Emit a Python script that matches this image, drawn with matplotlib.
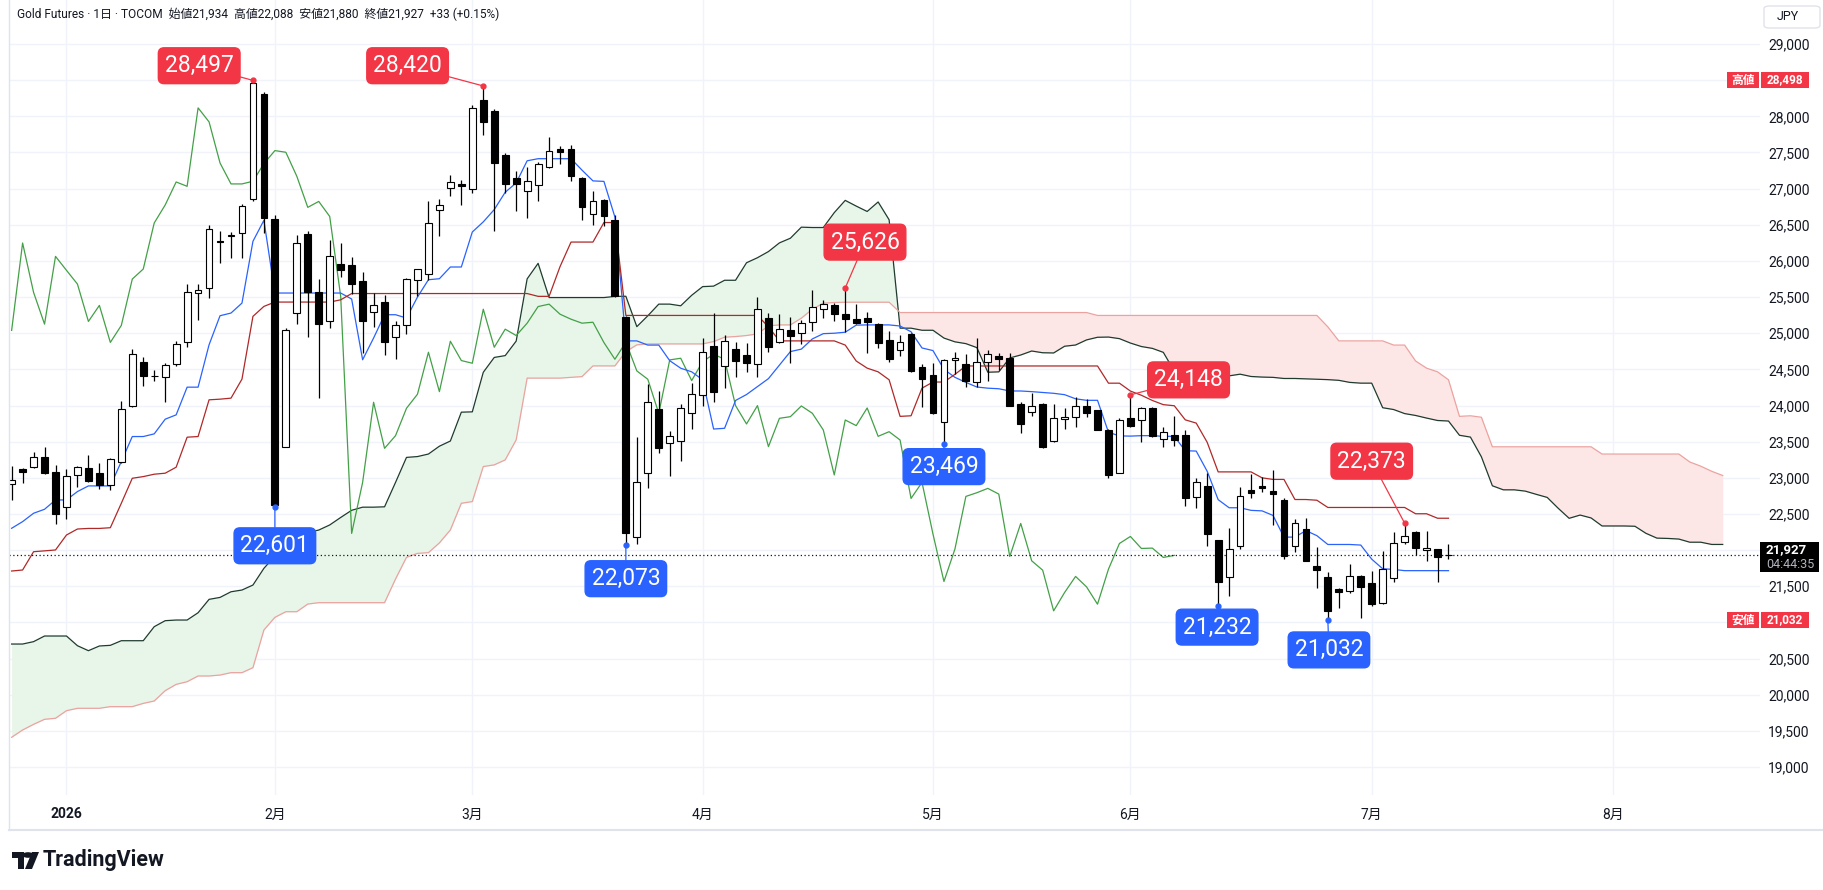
import numpy as np
import matplotlib
matplotlib.use("Agg")
import matplotlib.pyplot as plt
from matplotlib.patches import FancyBboxPatch, Rectangle, Polygon, Circle
from matplotlib.lines import Line2D

plt.rcParams['font.family'] = ['Roboto', 'Noto Sans CJK JP', 'DejaVu Sans']

# daily candles, one per trading day (24 Dec 2025 .. 10 Jul 2026)
opens = [22916, 23119, 23156, 23285, 23087, 22593, 23036, 23133, 23064, 22897,
         23225, 24000, 24596, 24405, 24393, 24568, 24877, 25556, 25625, 26280,
         26350, 26386, 26857, 28302, 26580, 23433, 25279, 26377, 25574, 25163,
         25962, 25943, 25726, 25293, 25431, 24951, 25108, 25740, 25819, 26705,
         27014, 27069, 26995, 28232, 28071, 27471, 27148, 26972, 27051, 27300,
         27554, 27549, 27142, 26652, 26846, 26569, 25231, 22185, 23062, 23948,
         23477, 23509, 23893, 24142, 24825, 24552, 24779, 24700, 24576, 25208,
         24876, 25042, 25000, 25152, 25337, 25392, 25268, 25199, 25217, 25129,
         24908, 24769, 24991, 24529, 24423, 23768, 24626, 24576, 24331, 24608,
         24686, 24663, 24022, 23916, 24022, 23514, 23809, 23837, 23999, 23939,
         23662, 23070, 23823, 23800, 23966, 23537, 23592, 23592, 22739, 22882,
         22139, 21622, 22051, 22831, 22891, 22812, 22692, 22051, 22291, 21774,
         21622, 21460, 21437, 21636, 21543, 21262, 21608, 22106, 22254, 22000,
         22014, 21934]
highs = [23165, 23130, 23364, 23423, 23179, 23119, 23165, 23318, 23202, 23271,
         24056, 24780, 24670, 24494, 24587, 24896, 25685, 25685, 26502, 26409,
         26400, 26792, 28497, 28338, 26640, 25071, 26363, 26409, 25749, 26294,
         26248, 26054, 25851, 25556, 25528, 25163, 25760, 25895, 26834, 26857,
         27194, 27125, 28163, 28420, 28103, 27494, 27240, 27300, 27365, 27715,
         27595, 27600, 27160, 26961, 26860, 26640, 25240, 23560, 24294, 24206,
         23652, 24022, 24308, 24931, 25277, 24977, 24885, 24862, 25499, 25286,
         25268, 25231, 25185, 25600, 25462, 25420, 25626, 25406, 25291, 25148,
         25032, 24972, 25000, 24576, 24585, 24640, 24737, 24709, 24931, 24769,
         24723, 24723, 24054, 24169, 24031, 24022, 23962, 24114, 24086, 23945,
         23670, 23830, 24148, 23975, 23975, 23698, 23851, 23666, 22997, 23066,
         22145, 22305, 22868, 23052, 23006, 23112, 22715, 22429, 22443, 22037,
         21700, 21470, 21806, 21659, 21714, 21991, 22245, 22373, 22268, 22268,
         22020, 22088]
lows = [22694, 22934, 23133, 23050, 22362, 22427, 22870, 22948, 22842, 22833,
        23202, 23986, 24273, 24333, 24042, 24550, 24808, 25186, 25486, 25971,
        26040, 26040, 26825, 26386, 22601, 23425, 25126, 24946, 24102, 25071,
        25777, 25546, 24725, 25085, 24702, 24642, 24988, 25509, 25731, 26340,
        26894, 26769, 26940, 27748, 26409, 26940, 26686, 26594, 26825, 27286,
        27346, 27100, 26560, 26500, 26486, 25500, 22073, 22090, 22854, 23339,
        23025, 23237, 23671, 23994, 24054, 24239, 24391, 24469, 24391, 24746,
        24860, 24594, 24852, 25032, 25217, 25175, 25023, 25125, 24723, 24792,
        24608, 24686, 24470, 23976, 23880, 23469, 24432, 24252, 24262, 24345,
        24492, 23990, 23616, 23860, 23417, 23500, 23671, 23699, 23846, 23655,
        22993, 23060, 23700, 23500, 23570, 23422, 23435, 22605, 22582, 22051,
        21232, 21368, 22014, 22720, 22808, 22351, 21876, 21977, 21845, 21483,
        21032, 21206, 21405, 21068, 21229, 21255, 21562, 22083, 21935, 21843,
        21566, 21880]
closes = [22971, 23082, 23285, 23073, 22500, 23031, 23147, 22962, 22902, 23257,
          23950, 24706, 24411, 24415, 24559, 24850, 25569, 25602, 26442, 26262,
          26358, 26755, 28460, 26589, 22625, 25039, 26248, 25565, 25126, 26063,
          25870, 25680, 25163, 25385, 24873, 25108, 25749, 25888, 26525, 26774,
          27092, 27032, 28117, 27923, 27355, 27065, 27065, 27102, 27346, 27526,
          27503, 27171, 26741, 26823, 26615, 25510, 22231, 22937, 24045, 23408,
          23583, 23962, 24156, 24737, 24192, 24889, 24622, 24585, 25332, 24806,
          25056, 24968, 25139, 25369, 25402, 25263, 25194, 25139, 25152, 24871,
          24640, 24876, 24479, 24363, 23892, 24631, 24654, 24345, 24608, 24709,
          24640, 23999, 23745, 23999, 23431, 23823, 23846, 23994, 23893, 23662,
          23040, 23800, 23722, 23966, 23574, 23638, 23523, 22715, 22937, 22222,
          21566, 22014, 22743, 22794, 22854, 22775, 21912, 22369, 21852, 21723,
          21160, 21414, 21636, 21492, 21252, 21737, 22092, 22189, 22023, 22028,
          21899, 21927]

# ichimoku lines
tenkan = [22302, 22394, 22510, 22565, 22694, 22694, 22810, 22888, 22888, 22888,
          23225, 23571, 23571, 23608, 23811, 23871, 24254, 24254, 24840, 25242,
          25279, 25417, 26271, 26562, 25556, 25556, 25556, 25556, 25556, 25556,
          25556, 25473, 24633, 24933, 25256, 25256, 25210, 25500, 25740, 25754,
          25916, 25916, 26400, 26540, 26710, 26950, 27079, 27385, 27414, 27414,
          27414, 27414, 27256, 27107, 27100, 26608, 24894, 24894, 24836, 24836,
          24620, 24516, 24466, 24356, 23675, 23685, 24070, 24152, 24262, 24372,
          24560, 24746, 24780, 24921, 24994, 25000, 25014, 25112, 25115, 25115,
          25115, 25100, 25020, 24796, 24760, 24500, 24390, 24320, 24256, 24240,
          24232, 24201, 24201, 24192, 24180, 24169, 24150, 24093, 24072, 24072,
          23630, 23580, 23577, 23583, 23583, 23574, 23574, 23375, 23370, 23090,
          22698, 22586, 22586, 22550, 22543, 22480, 22180, 22180, 22270, 22200,
          22078, 22078, 22078, 22070, 21875, 21742, 21733, 21716, 21716, 21716,
          21716, 21716]
kijun = [21711, 21725, 21978, 21990, 22002, 22209, 22292, 22300, 22300, 22310,
         22648, 22994, 23017, 23050, 23064, 23147, 23562, 23571, 24079, 24088,
         24102, 24365, 25233, 25371, 25431, 25431, 25431, 25431, 25431, 25431,
         25462] + [25549] * 17 + [25510, 25510,
         25922, 26261, 26261, 26261, 26531, 26531] + [25246] * 13 + [25088] + [24894] * 6 + [
         24836, 24616, 24517, 24466,
         24356, 23850, 23858, 24240, 24325, 24325, 24431] + [24547] * 13 + [
         24309, 24309, 24200, 24142, 24070, 24012, 23997, 23802, 23757, 23491,
         23082, 23082, 23082, 23082, 23000, 22978, 22978, 22700, 22700, 22690] + [22590] * 8 + [
         22503, 22503, 22441, 22441]
span_a_early = [20701, 20701, 20734, 20812, 20812, 20812, 20678, 20609, 20674, 20683,
                20747, 20747, 20747, 20941, 21024, 21033, 21033, 21134, 21319, 21346,
                21424, 21448, 21517, 21748, 21918]
span_b = [19411, 19512, 19590, 19660, 19674, 19779, 19812, 19812, 19812, 19835,
          19835, 19835, 19880, 19913, 20056, 20143, 20180, 20259, 20259, 20272,
          20305, 20305, 20374, 20895, 21070, 21148, 21148, 21254, 21273, 21273,
          21273, 21273, 21273, 21273, 21273, 21600, 21900, 21955, 21965, 22100,
          22279, 22648, 22671, 23156, 23179, 23248, 23525, 24379, 24379, 24379,
          24379, 24390, 24400, 24548, 24548, 24548, 24746, 24839, 24852, 24852,
          24852, 24852, 24852, 24852, 24885, 24945, 24954, 24968, 24991, 25102,
          25115, 25115, 25208, 25332, 25415, 25425, 25429, 25429, 25429, 25429,
          25429] + [25286] * 18 + [25246] * 21 + [
          25088, 24894, 24894, 24894, 24894, 24894, 24836, 24836, 24616, 24517,
          24466, 24356, 23850, 23858, 23838] + [23429] * 10 + [23329] * 8 + [
          23219, 23161, 23090, 23032]

month_pos = [5, 24, 42, 63, 84, 102, 124, 146]
month_labels = ['2026', '2月', '3月', '4月', '5月', '6月', '7月', '8月']
price_ticks = list(range(19000, 29001, 500))
hidden_ticks = [28500, 21000]   # covered by the high / low tags on the axis

peak_bars = [22, 43, 76, 102, 127]
trough_bars = [24, 56, 85, 110, 120]
peak_boxes = [(17.1, 28700), (36.1, 28700), (77.8, 26260), (107.3, 24355), (124.0, 23230)]
trough_boxes = [(24.0, 22060), (56.0, 21605), (85.0, 23155), (109.9, 20935), (120.1, 20620)]

W, H = 1824, 890
fig = plt.figure(figsize=(W / 100, H / 100), dpi=100)
ax = fig.add_axes([9 / W, 1 - 795 / H, 1751 / W, 795 / H])

o = np.array(opens); h = np.array(highs); l = np.array(lows); c = np.array(closes)
n = len(c)
x = np.arange(n)
shift = 25

# cloud
xa = np.arange(n + shift)
span_a = np.concatenate([span_a_early, (np.array(tenkan) + np.array(kijun)) / 2])
sb = np.array(span_b, dtype=float)
ax.fill_between(xa, span_a, sb, where=span_a >= sb, interpolate=True, color='#e8f5e9', lw=0, zorder=1)
ax.fill_between(xa, span_a, sb, where=span_a < sb, interpolate=True, color='#fde6e6', lw=0, zorder=1)
ax.plot(xa, span_a, color='#1e3b2e', lw=0.9, zorder=2)
ax.plot(xa, sb, color='#eba3a0', lw=0.9, zorder=2)

ax.plot(x[:n - shift], c[shift:], color='#43a047', lw=0.9, zorder=2)
ax.plot(x, tenkan, color='#2962ff', lw=0.9, zorder=2)
ax.plot(x, kijun, color='#b02828', lw=0.9, zorder=2)

# candles
up = c >= o
ax.vlines(x, l, h, color='black', lw=0.9, zorder=3)
ax.bar(x, np.maximum(np.abs(c - o), 8), bottom=np.minimum(o, c), width=0.62,
       color=np.where(up, 'white', 'black'), edgecolor='black', linewidth=0.8, zorder=4)

ax.axhline(c[-1], color='#131722', lw=0.9, ls=(0, (1, 2)), zorder=2)

# high / low markers
for i, (bx, by) in zip(peak_bars, peak_boxes):
    ax.plot(i, h[i], 'o', ms=3.5, color='#f23645', zorder=6)
    ax.annotate(f"{h[i]:,}", xy=(i, h[i]), xytext=(bx, by), ha='center', va='center',
                fontsize=16.5, color='white', zorder=7,
                bbox=dict(boxstyle='round,pad=0.28,rounding_size=0.25', fc='#f23645', ec='#f23645'),
                arrowprops=dict(arrowstyle='-', color='#f23645', lw=0.9, shrinkA=0, shrinkB=0))
for i, (bx, by) in zip(trough_bars, trough_boxes):
    ax.plot(i, l[i], 'o', ms=3.5, color='#2962ff', zorder=6)
    ax.annotate(f"{l[i]:,}", xy=(i, l[i]), xytext=(bx, by), ha='center', va='center',
                fontsize=16.5, color='white', zorder=7,
                bbox=dict(boxstyle='round,pad=0.28,rounding_size=0.25', fc='#2962ff', ec='#2962ff'),
                arrowprops=dict(arrowstyle='-', color='#2962ff', lw=0.9, shrinkA=0, shrinkB=0))

ax.set_xlim(-0.24, 159.4)
ax.set_ylim(18613, 29609)
ax.set_yticks(price_ticks)
ax.set_yticklabels(['' if v in hidden_ticks else f"{v:,}" for v in price_ticks])
ax.set_xticks(month_pos)
ax.set_xticklabels(month_labels)
ax.yaxis.tick_right()
ax.tick_params(axis='y', length=0, pad=6, labelsize=10, labelcolor='#131722')
ax.tick_params(axis='x', length=0, pad=9, labelsize=10, labelcolor='#131722')
ax.get_xticklabels()[0].set_fontweight('bold')
ax.grid(color='#f0f3fa', lw=1, zorder=0)
ax.set_axisbelow(True)
for s in ax.spines.values():
    s.set_visible(False)


def fx(px):
    return px / W


def fy(py):
    return 1 - py / H


# pane borders
fig.add_artist(Line2D([fx(9), fx(9)], [fy(0), fy(830)], color='#e0e3eb', lw=1))
fig.add_artist(Line2D([fx(9), 1], [fy(830), fy(830)], color='#e0e3eb', lw=1.5))

# header
fig.text(fx(17), fy(14), "Gold Futures · 1日 · TOCOM  始値21,934  高値22,088  安値21,880  終値21,927  +33 (+0.15%)",
         fontsize=8.6, color='#131722', va='center', ha='left')

# JPY box
fig.add_artist(FancyBboxPatch((fx(1764), fy(28)), fx(56), 22 / H, boxstyle='round,pad=0,rounding_size=0.003',
                              fc='white', ec='#e0e3eb', lw=1, transform=fig.transFigure))
fig.text(fx(1788), fy(17), "JPY", fontsize=9, color='#131722', ha='center', va='center')


def axis_tag(y0, left, right):
    fig.add_artist(Rectangle((fx(1727), fy(y0 + 16)), fx(32), 16 / H, fc='#f23645', ec='none',
                             transform=fig.transFigure, zorder=10))
    fig.add_artist(Rectangle((fx(1761), fy(y0 + 16)), fx(48), 16 / H, fc='#f23645', ec='none',
                             transform=fig.transFigure, zorder=10))
    fig.text(fx(1743), fy(y0 + 8), left, fontsize=8.5, color='white', ha='center', va='center',
             fontweight='bold', zorder=11)
    fig.text(fx(1785), fy(y0 + 8), right, fontsize=8.5, color='white', ha='center', va='center',
             fontweight='bold', zorder=11)


axis_tag(72, "高値", "28,498")
axis_tag(612, "安値", "21,032")

# last price tag
fig.add_artist(Rectangle((fx(1760), fy(572)), fx(59), 30 / H, fc='#000000', ec='none',
                         transform=fig.transFigure, zorder=10))
fig.text(fx(1766), fy(550), f"{c[-1]:,}", fontsize=9.5, color='white', ha='left', va='center',
         fontweight='bold', zorder=11)
fig.text(fx(1766), fy(565), "04:44:35", fontsize=9, color='#b2b5be', ha='left', va='center', zorder=11)

# TradingView logo
fig.add_artist(Polygon([(fx(12), fy(852)), (fx(24), fy(852)), (fx(24), fy(869)), (fx(18), fy(869)),
                        (fx(18), fy(858)), (fx(12), fy(858))], closed=True, fc='#131722', ec='none',
                       transform=fig.transFigure))
fig.add_artist(Circle((fx(28), fy(855)), 2.8 / H, fc='#131722', ec='none', transform=fig.transFigure))
fig.add_artist(Polygon([(fx(32), fy(852)), (fx(39), fy(852)), (fx(32), fy(869)), (fx(25), fy(869))],
                       closed=True, fc='#131722', ec='none', transform=fig.transFigure))
fig.text(fx(43), fy(860), "TradingView", fontsize=15.5, fontweight='bold', color='#131722',
         ha='left', va='center')

fig.savefig("out.png", dpi=100, facecolor='white')
